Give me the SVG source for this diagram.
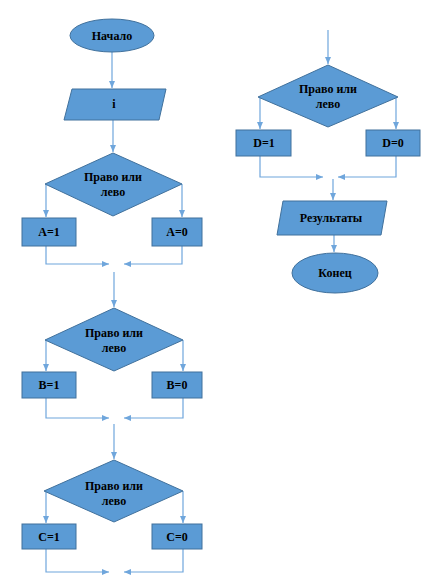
<svg xmlns="http://www.w3.org/2000/svg" width="427" height="580" viewBox="0 0 427 580">
<style>
.s{fill:#5b9bd5;stroke:#41719c;stroke-width:1}
.t{font-family:"Liberation Serif","Times New Roman",serif;font-weight:bold;font-size:12px;fill:#000;text-anchor:middle}
.c{fill:none;stroke:#6fa6dc;stroke-width:1.2}
</style>
<defs>
<marker id="ah" markerWidth="8" markerHeight="8" refX="7" refY="4" orient="auto" markerUnits="userSpaceOnUse">
<path d="M0,1 L7,4 L0,7 Z" fill="#6fa6dc"/>
</marker>
</defs>
<rect width="427" height="580" fill="#fff"/>
<g id="connectors">
<path class="c" d="M112,52 V88" marker-end="url(#ah)"/>
<path class="c" d="M113,120 V152" marker-end="url(#ah)"/>
<path class="c" d="M46,184 V217" marker-end="url(#ah)"/>
<path class="c" d="M182,184 V217" marker-end="url(#ah)"/>
<path class="c" d="M46,246 V264 H109" marker-end="url(#ah)"/>
<path class="c" d="M182,246 V264 H124" marker-end="url(#ah)"/>
<path class="c" d="M114,272 V307" marker-end="url(#ah)"/>
<path class="c" d="M46,340 V371" marker-end="url(#ah)"/>
<path class="c" d="M183,340 V371" marker-end="url(#ah)"/>
<path class="c" d="M46,398 V418 H109" marker-end="url(#ah)"/>
<path class="c" d="M183,398 V418 H124" marker-end="url(#ah)"/>
<path class="c" d="M114,424 V459" marker-end="url(#ah)"/>
<path class="c" d="M46,491 V523" marker-end="url(#ah)"/>
<path class="c" d="M183,491 V523" marker-end="url(#ah)"/>
<path class="c" d="M46,549 V572 H109" marker-end="url(#ah)"/>
<path class="c" d="M183,549 V572 H124" marker-end="url(#ah)"/>
<path class="c" d="M328,30 V64" marker-end="url(#ah)"/>
<path class="c" d="M260,97 V129" marker-end="url(#ah)"/>
<path class="c" d="M396,97 V129" marker-end="url(#ah)"/>
<path class="c" d="M260,156 V177 H323" marker-end="url(#ah)"/>
<path class="c" d="M396,156 V177 H338" marker-end="url(#ah)"/>
<path class="c" d="M333,179 V200" marker-end="url(#ah)"/>
<path class="c" d="M334,234 V252" marker-end="url(#ah)"/>
</g>
<g id="start"><ellipse class="s" cx="112" cy="35.5" rx="42" ry="16.5"/><text class="t" x="112" y="39.5">Начало</text></g>
<g id="input"><polygon class="s" points="72,89 166,89 159,120 64,120"/><text class="t" x="114" y="108">i</text></g>
<g id="dec1"><polygon class="s" points="113,153 182,184 113,216 45,184"/><text class="t" x="113" y="181">Право или</text><text class="t" x="113" y="196">лево</text></g>
<g id="a1"><rect class="s" x="22" y="218" width="54" height="28"/><text class="t" x="49" y="236">A=1</text></g>
<g id="a0"><rect class="s" x="152" y="218" width="50" height="28"/><text class="t" x="177" y="236">A=0</text></g>
<g id="dec2"><polygon class="s" points="114,308 183,340 114,371 45,340"/><text class="t" x="114" y="337">Право или</text><text class="t" x="114" y="352">лево</text></g>
<g id="b1"><rect class="s" x="22" y="372" width="54" height="26"/><text class="t" x="49" y="389">B=1</text></g>
<g id="b0"><rect class="s" x="152" y="372" width="50" height="26"/><text class="t" x="177" y="389">B=0</text></g>
<g id="dec3"><polygon class="s" points="114,460 183,491 114,522 44,491"/><text class="t" x="114" y="490">Право или</text><text class="t" x="114" y="505">лево</text></g>
<g id="c1"><rect class="s" x="22" y="524" width="54" height="25"/><text class="t" x="49" y="541">C=1</text></g>
<g id="c0"><rect class="s" x="152" y="524" width="50" height="25"/><text class="t" x="177" y="541">C=0</text></g>
<g id="dec4"><polygon class="s" points="328,65 398,97 328,127 258,97"/><text class="t" x="328" y="93">Право или</text><text class="t" x="328" y="108">лево</text></g>
<g id="d1"><rect class="s" x="236" y="130" width="55" height="26"/><text class="t" x="264" y="147">D=1</text></g>
<g id="d0"><rect class="s" x="366" y="130" width="54" height="26"/><text class="t" x="393" y="147">D=0</text></g>
<g id="output"><polygon class="s" points="283,201 387,201 381,235 277,235"/><text class="t" x="331" y="222">Результаты</text></g>
<g id="end"><ellipse class="s" cx="335" cy="273" rx="43" ry="20"/><text class="t" x="335" y="277">Конец</text></g>
</svg>
